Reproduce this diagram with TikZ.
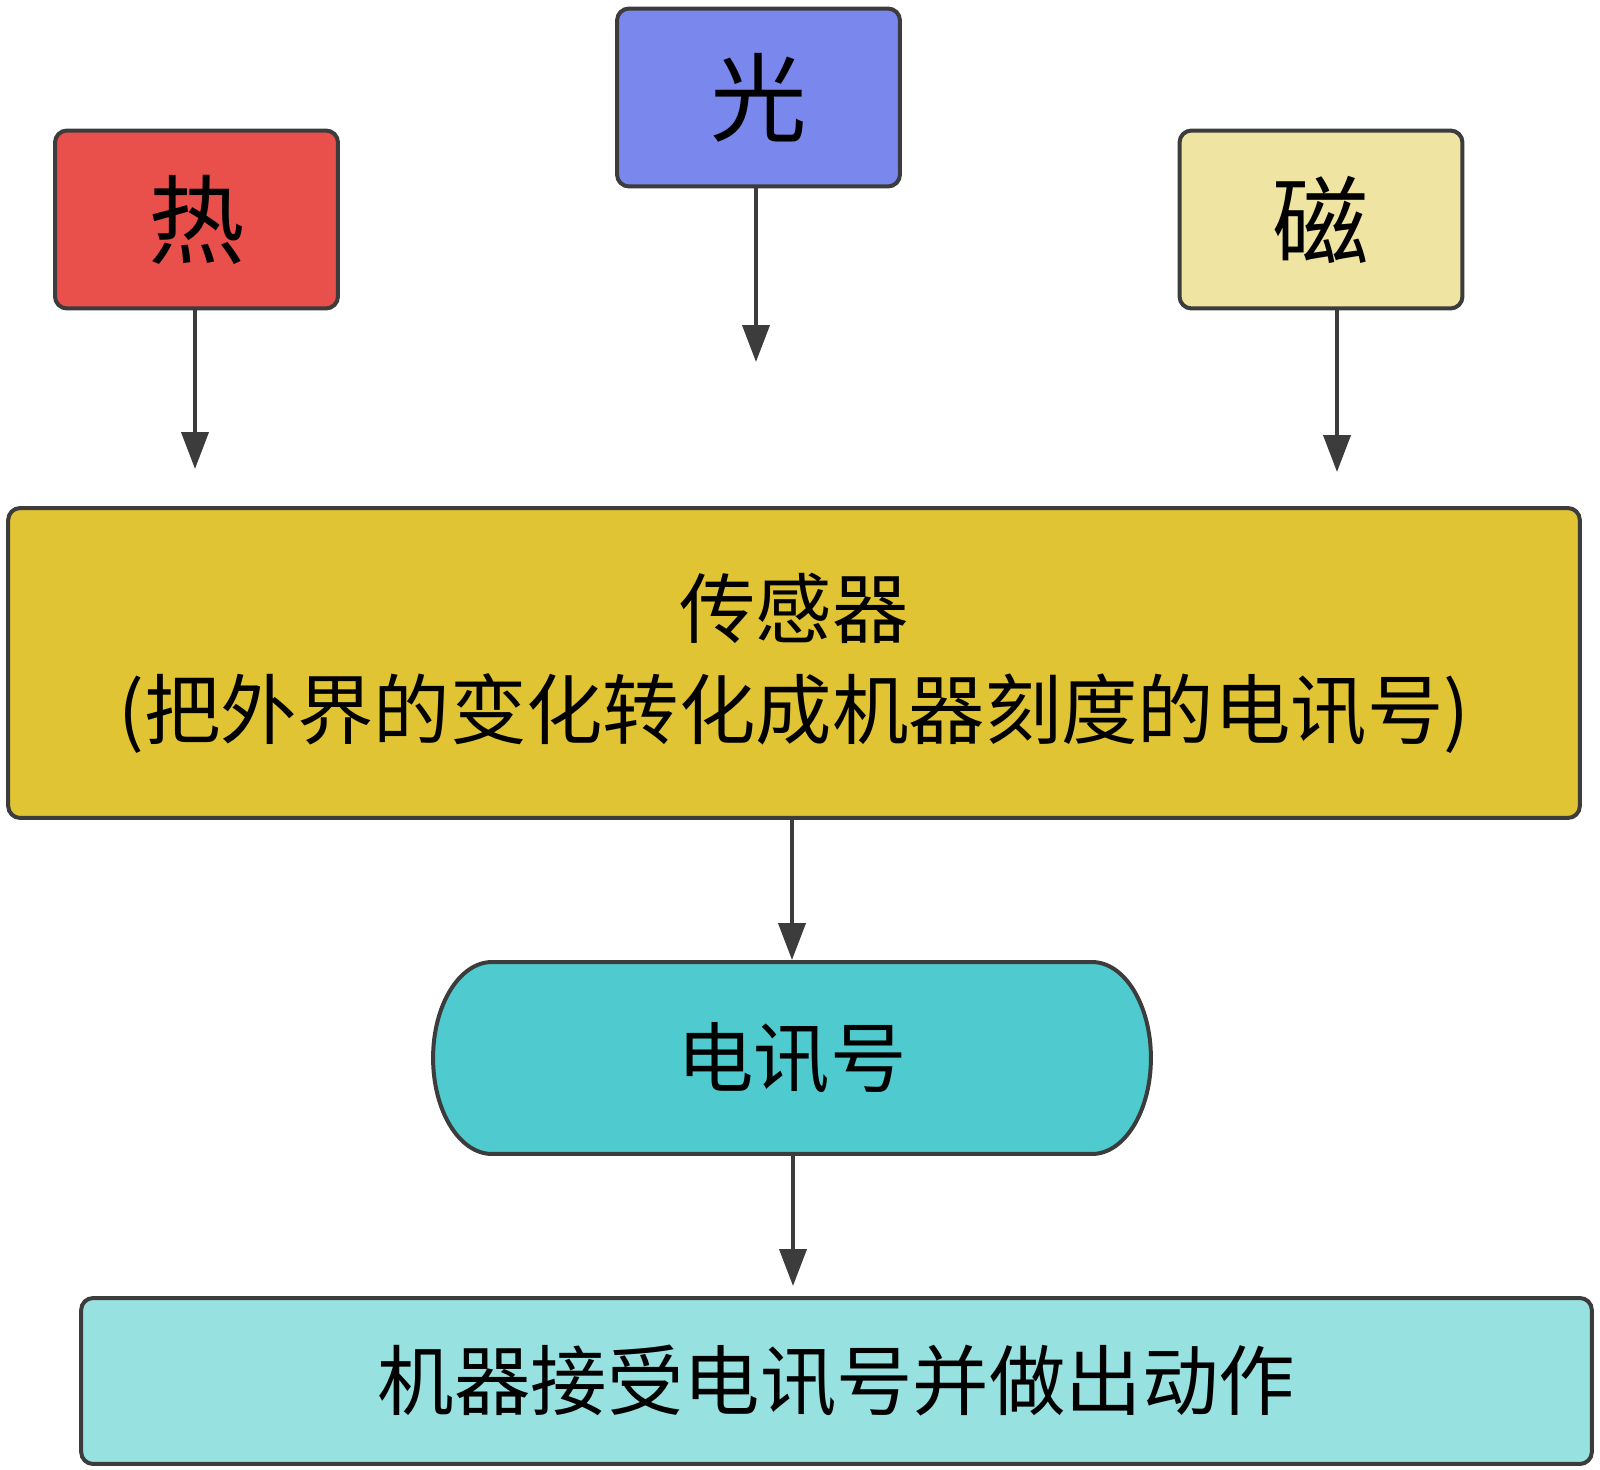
\documentclass[tikz,border=0pt]{standalone}
\usepackage{fontspec}
\newfontfamily\cjk{Noto Sans CJK SC}
\usetikzlibrary{arrows.meta,backgrounds}
\definecolor{edgeGray}{HTML}{3C3C3C}
\definecolor{hotRed}{HTML}{E9504C}
\definecolor{lightBlue}{HTML}{7A88EE}
\definecolor{magYellow}{HTML}{F0E4A2}
\definecolor{sensorGold}{HTML}{E0C434}
\definecolor{signalTeal}{HTML}{4FCBD0}
\definecolor{actionCyan}{HTML}{98E1E1}
\begin{document}
\begin{tikzpicture}[x=0.02cm,y=-0.02cm,
    srcNode/.style={draw=edgeGray,line width=0.08cm,rounded corners=0.24cm,minimum width=5.66cm,minimum height=3.56cm,inner sep=0pt,font=\cjk\fontsize{55}{60}\selectfont},
    flowBox/.style={draw=edgeGray,line width=0.08cm,rounded corners=0.24cm,inner sep=0pt,align=center,font=\cjk\fontsize{43.5}{57.5}\selectfont},
    flowArr/.style={-{Triangle[length=0.74cm,width=0.54cm]},line width=0.08cm,draw=edgeGray},
]
\useasboundingbox (0,0) rectangle (1600,1470);
\node[srcNode,fill=hotRed] (hot) at (196.5,219.5) {热};
\node[srcNode,fill=lightBlue] (light) at (758.5,97.5) {光};
\node[srcNode,fill=magYellow] (mag) at (1321,219.5) {磁};
\node[flowBox,fill=sensorGold,minimum width=31.44cm,minimum height=6.2cm] (sensor) at (794,663) {传感器\\(把外界的变化转化成机器刻度的电讯号)};
\node[flowBox,draw=none,outer sep=0pt,minimum width=14.36cm,minimum height=3.84cm] (signal) at (792,1058) {电讯号};
\node[flowBox,fill=actionCyan,minimum width=30.22cm,minimum height=3.32cm] (action) at (836.5,1381) {机器接受电讯号并做出动作};
% stadium outline behind the signal text
\begin{scope}[on background layer]
\draw[draw=edgeGray,line width=0.08cm,fill=signalTeal] ([xshift=1.18cm]signal.north west) -- ([xshift=-1.18cm]signal.north east)
    arc[start angle=90,end angle=-90,x radius=1.18cm,y radius=1.92cm] -- ([xshift=1.18cm]signal.south west)
    arc[start angle=270,end angle=90,x radius=1.18cm,y radius=1.92cm] -- cycle;
\end{scope}
\coordinate (hotEnd) at (195,469);
\coordinate (lightEnd) at (756,362);
\coordinate (magEnd) at (1337,472);
\coordinate (actEnd) at (793,1286);
\draw[flowArr] (hot.south -| hotEnd) -- (hotEnd);
\draw[flowArr] (light.south -| lightEnd) -- (lightEnd);
\draw[flowArr] (mag.south -| magEnd) -- (magEnd);
\draw[flowArr] (sensor.south -| signal.north) -- ([yshift=0.04cm]signal.north);
\draw[flowArr] ([yshift=-0.04cm]signal.south -| actEnd) -- (actEnd);
\end{tikzpicture}
\end{document}
